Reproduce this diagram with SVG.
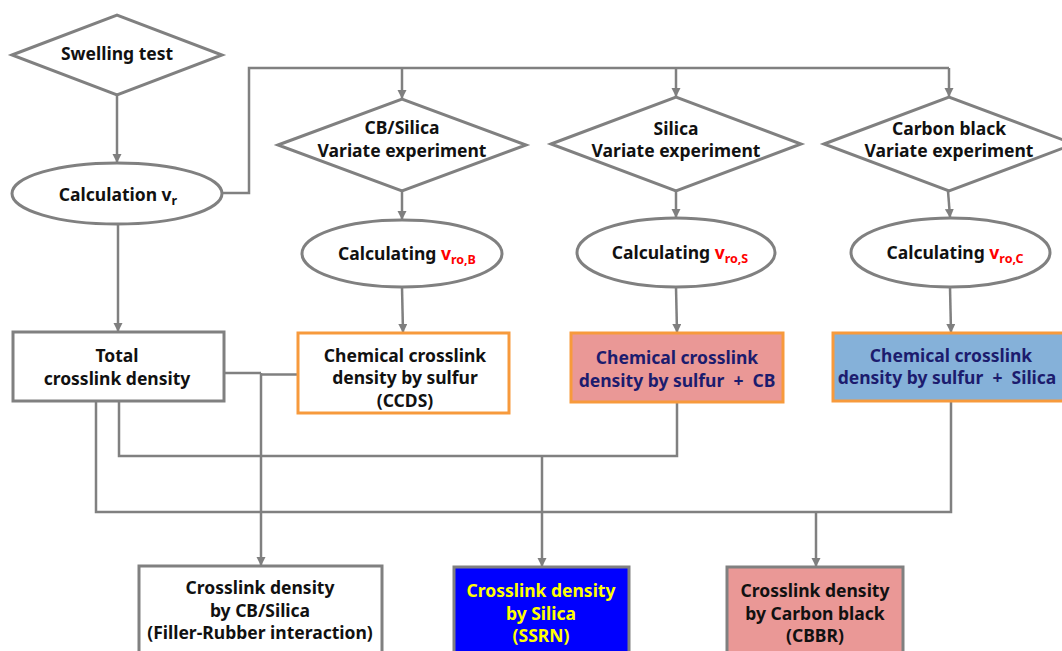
<svg xmlns="http://www.w3.org/2000/svg" width="1062" height="651" viewBox="0 0 1062 651">
<defs>
<marker id="ah" markerWidth="10" markerHeight="10" refX="8" refY="4.5" orient="auto" markerUnits="userSpaceOnUse">
<path d="M0,0 L9,4.5 L0,9 z" fill="#7f7f7f"/>
</marker>
<style>
.ln{fill:none;stroke:#808080;stroke-width:2.5}
.arr{marker-end:url(#ah)}
.sh{fill:#fff;stroke:#808080;stroke-width:3}
.org{stroke:#f79a3c;stroke-width:3}
.t{font-family:"Noto Sans","Liberation Sans",sans-serif;font-weight:bold;font-size:17.5px;text-anchor:middle;fill:#111}
.sub{font-size:12.5px}
.nv{fill:#1c1c6e}
.red{fill:#ff0000}
.yl{fill:#ffff00}
</style>
</defs>
<rect width="1062" height="651" fill="#fff"/>
<g id="connectors">
<line class="ln arr" x1="117" y1="95" x2="117" y2="162"/>
<polyline class="ln" points="222,193 249,193 249,68 949,68"/>
<line class="ln arr" x1="402" y1="68" x2="402" y2="98"/>
<line class="ln arr" x1="676" y1="68" x2="676" y2="96"/>
<line class="ln arr" x1="949" y1="68" x2="949" y2="96"/>
<line class="ln arr" x1="402" y1="191" x2="402" y2="219"/>
<line class="ln arr" x1="676" y1="191" x2="676" y2="217"/>
<line class="ln arr" x1="948" y1="191" x2="950" y2="217"/>
<line class="ln arr" x1="118" y1="224" x2="118" y2="331"/>
<line class="ln arr" x1="402" y1="287" x2="403" y2="332"/>
<line class="ln arr" x1="676" y1="287" x2="677" y2="332"/>
<line class="ln arr" x1="950" y1="287" x2="951" y2="332"/>
<polyline class="ln" points="224,373 261,373"/>
<polyline class="ln" points="298,374.5 261,374.5"/>
<line class="ln arr" x1="261" y1="373" x2="261" y2="565"/>
<polyline class="ln" points="119,401 119,456 677,456 677,402"/>
<line class="ln arr" x1="542" y1="456" x2="542" y2="566"/>
<polyline class="ln" points="96,401 96,512 951,512 951,401"/>
<line class="ln arr" x1="816" y1="512" x2="816" y2="566"/>
</g>
<g id="swelling">
<polygon class="sh" points="12,55 117,15 222,55 117,95"/>
<text class="t" x="117" y="60">Swelling test</text>
</g>
<g id="calc-vr">
<ellipse class="sh" cx="117" cy="193.5" rx="105" ry="30.5"/>
<text class="t" x="118" y="201">Calculation v<tspan class="sub" dy="4">r</tspan></text>
</g>
<g id="cbsilica-exp">
<polygon class="sh" points="278,145 402,99 526,145 402,191"/>
<text class="t" x="402" y="134">CB/Silica</text>
<text class="t" x="402" y="157">Variate experiment</text>
</g>
<g id="silica-exp">
<polygon class="sh" points="551,144 676,97 801,144 676,191"/>
<text class="t" x="676" y="135">Silica</text>
<text class="t" x="676" y="157">Variate experiment</text>
</g>
<g id="cb-exp">
<polygon class="sh" points="824,144 949,97 1074,144 949,191"/>
<text class="t" x="949" y="135">Carbon black</text>
<text class="t" x="949" y="157">Variate experiment</text>
</g>
<g id="calc-vrob">
<ellipse class="sh" cx="402" cy="253.5" rx="100" ry="33.5"/>
<text class="t" x="407" y="260">Calculating <tspan class="red">v</tspan><tspan class="red sub" dy="4">ro,B</tspan></text>
</g>
<g id="calc-vros">
<ellipse class="sh" cx="676" cy="252.5" rx="99" ry="34.5"/>
<text class="t" x="680" y="259">Calculating <tspan class="red">v</tspan><tspan class="red sub" dy="4">ro,S</tspan></text>
</g>
<g id="calc-vroc">
<ellipse class="sh" cx="950.5" cy="252.5" rx="99.5" ry="34.5"/>
<text class="t" x="955" y="259">Calculating <tspan class="red">v</tspan><tspan class="red sub" dy="4">ro,C</tspan></text>
</g>
<g id="total">
<rect class="sh" x="13" y="332" width="211" height="69"/>
<text class="t" x="117" y="362">Total</text>
<text class="t" x="117" y="385">crosslink density</text>
</g>
<g id="ccds">
<rect class="sh org" x="298" y="333" width="211" height="80"/>
<text class="t" x="405" y="362">Chemical crosslink</text>
<text class="t" x="405" y="384">density by sulfur</text>
<text class="t" x="405" y="407">(CCDS)</text>
</g>
<g id="ccd-cb">
<rect class="org" fill="#ea9896" x="571" y="333" width="212" height="69"/>
<text class="t nv" x="677" y="364">Chemical crosslink</text>
<text class="t nv" x="677" y="387">density by sulfur&#160; +&#160; CB</text>
</g>
<g id="ccd-silica">
<rect class="org" fill="#85b1d9" x="833" y="333" width="240" height="68"/>
<text class="t nv" x="951" y="362">Chemical crosslink</text>
<text class="t nv" x="947" y="384">density by sulfur&#160; +&#160; Silica</text>
</g>
<g id="cd-cbsilica">
<rect class="sh" x="139" y="566" width="243" height="100"/>
<text class="t" x="260" y="594">Crosslink density</text>
<text class="t" x="260" y="617">by CB/Silica</text>
<text class="t" x="260" y="639">(Filler-Rubber interaction)</text>
</g>
<g id="ssrn">
<rect fill="#0000ff" stroke="#808080" stroke-width="3" x="454" y="567" width="175" height="100"/>
<text class="t yl" x="541" y="597">Crosslink density</text>
<text class="t yl" x="541" y="620">by Silica</text>
<text class="t yl" x="541" y="642">(SSRN)</text>
</g>
<g id="cbbr">
<rect fill="#ea9896" stroke="#808080" stroke-width="3" x="727" y="567" width="176" height="100"/>
<text class="t" x="815" y="597">Crosslink density</text>
<text class="t" x="815" y="620">by Carbon black</text>
<text class="t" x="815" y="642">(CBBR)</text>
</g>
</svg>
